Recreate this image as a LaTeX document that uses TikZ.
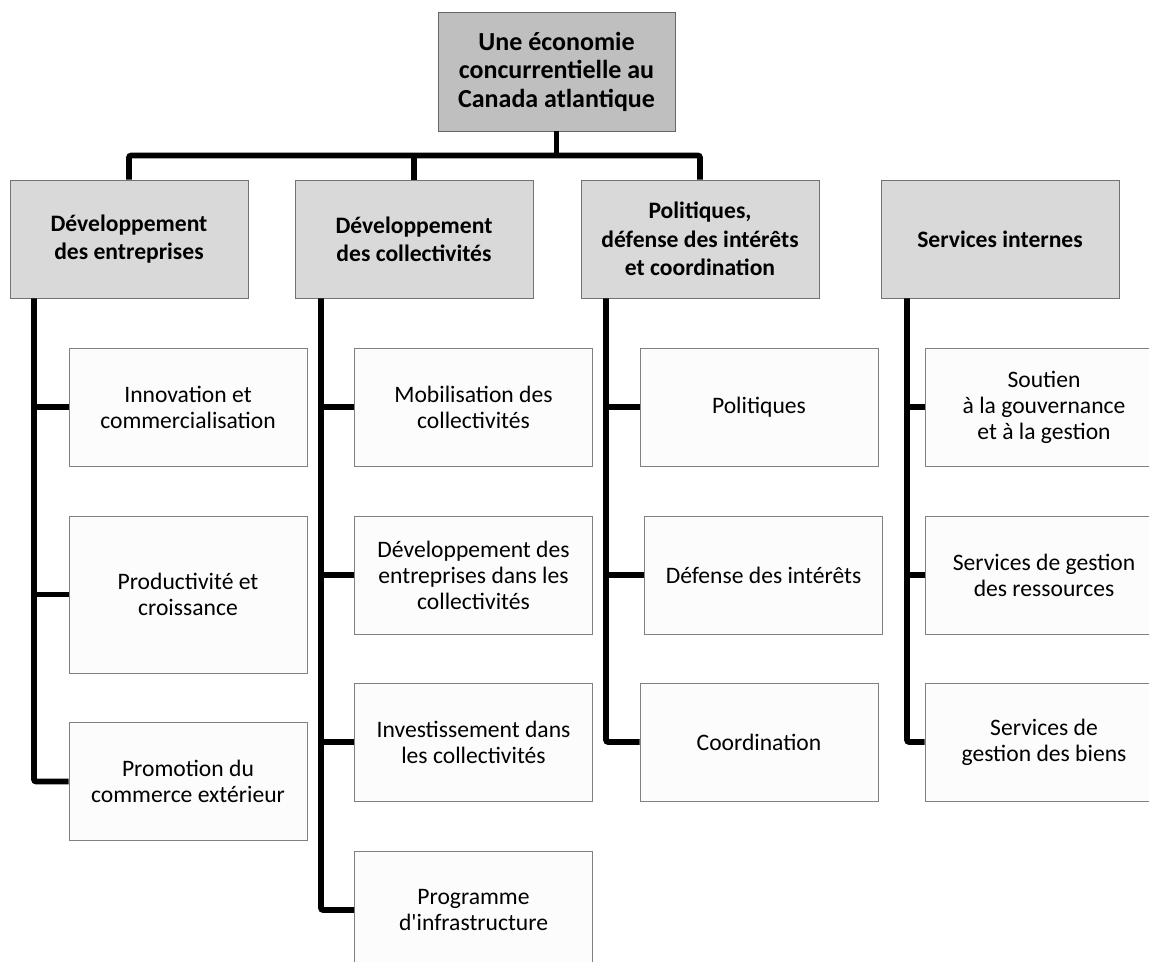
\documentclass[tikz,border=0pt]{standalone}
\usepackage{fontspec}
\setmainfont{Carlito}[Ligatures=TeXOff]
\usetikzlibrary{calc}

\begin{document}
\begin{tikzpicture}[x=0.75pt,y=-0.75pt]
        \tikzstyle{topbox} = [draw=black!60, line width=0.6pt, fill=black!25, align=center, minimum width=177.75pt, minimum height=89.25pt, inner sep=0pt, font=\fontsize{19.5}{21.4}\selectfont\bfseries]
        \tikzstyle{headbox} = [draw=black!55, line width=0.6pt, fill=black!15, align=center, minimum width=178.5pt, minimum height=88.5pt, inner sep=0pt, font=\fontsize{17.7}{21.2}\selectfont\bfseries]
        \tikzstyle{unitbox} = [draw=black!50, line width=0.6pt, fill=black!1, align=center, minimum width=178.5pt, minimum height=88.5pt, inner sep=0pt, font=\fontsize{17.7}{19.5}\selectfont]
        \tikzstyle{link} = [line width=4.2pt, rounded corners=1.5pt]

        \clip (0,0) rectangle (1149,962);

        \node[topbox] (top) at (556.5,71.5) {Une économie\\concurrentielle au\\Canada atlantique};

        \node[headbox] (h1) at (129,239) {Développement\\des entreprises};
        \node[headbox] (h2) at (414,239) {Développement\\des collectivités};
        \node[headbox] (h3) at (700,239) {Politiques,\\défense des intérêts\\et coordination};
        \node[headbox] (h4) at (1000,239) {Services internes};

        \node[unitbox] (c11) at (188,407) {Innovation et\\commercialisation};
        \node[unitbox, minimum height=117.75pt] (c12) at (188,594.5) {Productivité et\\croissance};
        \node[unitbox] (c13) at (188,781.5) {Promotion du\\commerce extérieur};

        \node[unitbox] (c21) at (473.5,407) {Mobilisation des\\collectivités};
        \node[unitbox] (c22) at (473.5,575) {Développement des\\entreprises dans les\\collectivités};
        \node[unitbox] (c23) at (473.5,742) {Investissement dans\\les collectivités};
        \node[unitbox] (c24) at (473.5,910) {Programme\\d'infrastructure};

        \node[unitbox] (c31) at (759,407) {Politiques};
        \node[unitbox] (c32) at (763.5,575) {Défense des intérêts};
        \node[unitbox] (c33) at (759,742) {Coordination};

        \node[unitbox] (c41) at (1044,407) {Soutien\\à la gouvernance\\et à la gestion};
        \node[unitbox] (c42) at (1044,575) {Services de gestion\\des ressources};
        \node[unitbox] (c43) at (1044,742) {Services de\\gestion des biens};

        \coordinate (bar) at (top.south |- 0,155.5);
        \draw[link] (top.south) -- (bar);
        \draw[link] (h1.north) |- (bar) -| (h3.north);
        \draw[link] (h2.north) -- (h2.north |- bar);

        \foreach \h/\x/\c in {h1/34/c13, h2/321/c24, h3/606/c33, h4/907/c43}
        {
                \draw[link] (\h.south -| \x,0) |- (\c.west);
        }
        \foreach \c/\x in {c11/34, c12/34, c21/321, c22/321, c23/321, c31/606, c32/606, c41/907, c42/907}
        {
                \draw[link] (\c.west -| \x,0) -- (\c.west);
        }
\end{tikzpicture}
\end{document}
